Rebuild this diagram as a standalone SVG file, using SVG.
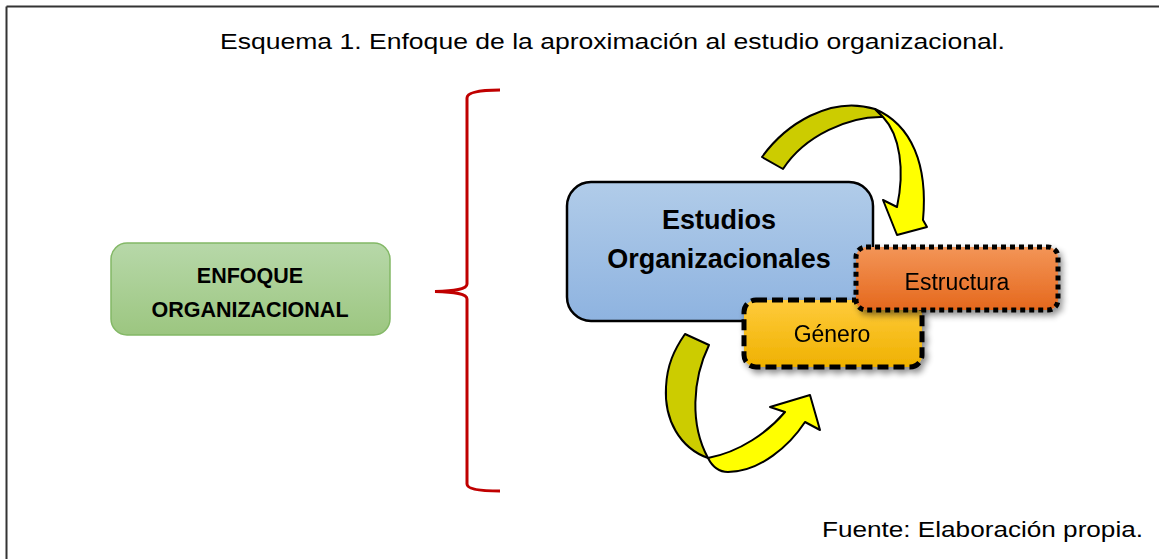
<svg xmlns="http://www.w3.org/2000/svg" width="1159" height="559" viewBox="0 0 1159 559">
<style>
.cap{font-family:"Liberation Sans",Arial,sans-serif;font-size:22px;fill:#000}
.bold{font-family:"Liberation Sans",Arial,sans-serif;font-weight:bold;fill:#000;text-anchor:middle}
.reg{font-family:"Liberation Sans",Arial,sans-serif;font-size:23px;fill:#000;text-anchor:middle}
.arr{stroke:#000;stroke-width:2;stroke-linejoin:round}
</style>
<defs>
<linearGradient id="gGreen" x1="0" y1="0" x2="0" y2="1"><stop offset="0" stop-color="#b7d8a9"/><stop offset="1" stop-color="#9cc680"/></linearGradient>
<linearGradient id="gBlue" x1="0" y1="0" x2="0" y2="1"><stop offset="0" stop-color="#b1cce9"/><stop offset="1" stop-color="#8eb3e0"/></linearGradient>
<linearGradient id="gOrange" x1="0" y1="0" x2="0" y2="1"><stop offset="0" stop-color="#f39557"/><stop offset="1" stop-color="#e5681d"/></linearGradient>
<linearGradient id="gGold" x1="0" y1="0" x2="0" y2="1"><stop offset="0" stop-color="#ffcb3c"/><stop offset="1" stop-color="#efb100"/></linearGradient>
<filter id="shadow" x="-20%" y="-20%" width="140%" height="150%">
<feGaussianBlur in="SourceAlpha" stdDeviation="3"/>
<feOffset dx="3" dy="4" result="b"/>
<feComponentTransfer><feFuncA type="linear" slope="0.45"/></feComponentTransfer>
<feMerge><feMergeNode/><feMergeNode in="SourceGraphic"/></feMerge>
</filter>
</defs>
<rect width="1159" height="559" fill="#fff"/>
<g id="frame" stroke="#333" stroke-width="2" fill="none">
<line x1="6.5" y1="6.5" x2="1159" y2="6.5"/>
<line x1="6.5" y1="6.5" x2="6.5" y2="559"/>
</g>
<text class="cap" x="220" y="48.5" textLength="785" lengthAdjust="spacingAndGlyphs">Esquema 1. Enfoque de la aproximación al estudio organizacional.</text>
<text class="cap" x="822" y="537" textLength="321" lengthAdjust="spacingAndGlyphs">Fuente: Elaboración propia.</text>

<g id="enfoque">
<rect x="111" y="243" width="279" height="92" rx="16" fill="url(#gGreen)" stroke="#83b866" stroke-width="1.5"/>
<text class="bold" x="250" y="283" font-size="21.5">ENFOQUE</text>
<text class="bold" x="250" y="317" font-size="21.5">ORGANIZACIONAL</text>
</g>

<g id="brace">
<path d="M500,90 C480,90 467,92 467,98 L467,284 C467,289 455,291 435,291.5 C455,292 467,294 467,299 L467,484 C467,489 480,491 500,491" fill="none" stroke="#c00000" stroke-width="3"/>
</g>

<g id="connectors">
<path class="arr" fill="#cccc00" d="M762,157 C785,125 830,95 875,109 L883,117 C850,116 805,135 783,169 Z"/>
<path class="arr" fill="#ffff00" d="M875,109 C912,125 928,165 923,220 L927,227 L897,235 L883,200 L897,207 C905,170 900,135 883,117 Z"/>
<path class="arr" fill="#cccc00" d="M685,334 L709,345 C692,380 690,425 708,458 C680,448 664,420 666,387 C667,365 674,350 685,334 Z"/>
<path class="arr" fill="#ffff00" d="M708,458 C740,452 768,432 785,412 L770,407 L810,395 L820,430 L805,422 C790,445 760,472 728,472 C718,472 712,466 708,458 Z"/>
</g>

<g id="estudios">
<rect x="567" y="182" width="306" height="139" rx="24" fill="url(#gBlue)" stroke="#000" stroke-width="2.5"/>
<text class="bold" x="719" y="229" font-size="27">Estudios</text>
<text class="bold" x="719" y="268" font-size="27">Organizacionales</text>
</g>

<g id="genero" filter="url(#shadow)">
<rect x="744" y="300" width="178" height="67" rx="12" fill="url(#gGold)" stroke="#000" stroke-width="5" stroke-dasharray="11 5"/>
<text class="reg" x="832" y="342">Género</text>
</g>

<g id="estructura" filter="url(#shadow)">
<rect x="856" y="247" width="202" height="63" rx="10" fill="url(#gOrange)" stroke="#000" stroke-width="5" stroke-dasharray="5 4"/>
<text class="reg" x="957" y="290">Estructura</text>
</g>
</svg>
